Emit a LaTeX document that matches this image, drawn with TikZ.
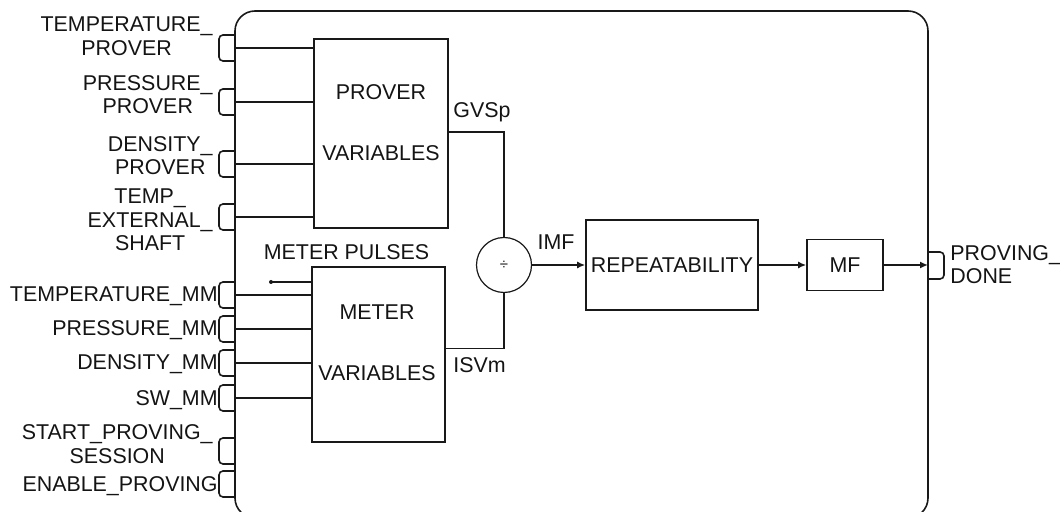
\documentclass[tikz,border=0pt]{standalone}
\usepackage{fontspec}
\setmainfont{Liberation Sans}
\usepackage{tikz}
\usetikzlibrary{arrows.meta,positioning}
\definecolor{blkLine}{RGB}{25,25,25}
\definecolor{blkText}{RGB}{20,20,20}

\begin{document}
\begin{tikzpicture}[x=0.5pt,y=-0.5pt,
  font=\fontsize{10.7}{11.8}\selectfont, text=blkText,
  blk/.style={draw=blkLine, line width=0.8pt, inner sep=0pt},
  sig/.style={draw=blkLine, line width=0.8pt},
  lbl/.style={inner sep=0pt, align=center, anchor=east},
  lblone/.style={inner sep=0pt, anchor=base east},
  boxtxt/.style={inner sep=0pt, align=center, font=\fontsize{10.7}{30.5}\selectfont},
  >={Latex[length=4pt,width=3.5pt]}]
\useasboundingbox (0,0) rectangle (1060,512);
\clip (0,0) rectangle (1060,512);

% outer block
\draw[sig, rounded corners=10pt] (235,11) rectangle (928,518);

% inner blocks
\node[blk, minimum width=67pt, minimum height=94.5pt] (prover) at (381,133.5) {};
\node[boxtxt] (proverTxt) at (381,122.5) {PROVER\\VARIABLES};
\node[blk, minimum width=66.5pt, minimum height=87.5pt] (meter) at (378.5,354.5) {};
\node[boxtxt] (meterTxt) at (377,342.5) {METER\\VARIABLES};
\node[blk, circle, line width=0.6pt, minimum size=27.5pt,
  font=\fontsize{7.5}{8}\selectfont] (div) at (504,265) {÷};
\node[blk, minimum width=86pt, minimum height=45pt] (rep) at (672,265) {REPEATABILITY};
\node[blk, minimum width=38pt, minimum height=25.5pt] (mf) at (845,265) {MF};

% input ports
\foreach \n/\y in {tp/48,pp/102,dp/164,tes/217,tmm/295,pmm/329,dmm/363,sw/398,sps/451,ep/484}{
  \coordinate (in-\n) at (235,\y);
  \draw[sig, rounded corners=2pt] (235,\y-13) -- (219,\y-13) -- (219,\y+13) -- (235,\y+13);
}
\node[lbl] (tpLbl) at (213,36.5) {TEMPERATURE\_\\PROVER};
\node[lbl] (ppLbl) at (213,94.5) {PRESSURE\_\\PROVER};
\node[lbl] (dpLbl) at (213,155.5) {DENSITY\_\\PROVER};
\node[lbl] (tesLbl) at (213,220) {TEMP\_\\EXTERNAL\_\\SHAFT};
\node[lblone] (tmmLbl) at (218,302) {TEMPERATURE\_MM};
\node[lblone] (pmmLbl) at (218,336) {PRESSURE\_MM};
\node[lblone] (dmmLbl) at (218,370) {DENSITY\_MM};
\node[lblone] (swLbl) at (218,406) {SW\_MM};
\node[lbl] (spsLbl) at (213,444) {START\_PROVING\_\\SESSION};
\node[lblone] (epLbl) at (218,492) {ENABLE\_PROVING};

% output port
\coordinate (out-done) at (928,265);
\draw[sig, rounded corners=2pt] (928,252) -- (944,252) -- (944,279) -- (928,279);
\node[inner sep=0pt, align=left, anchor=west] (doneLbl) at (950,264.5) {PROVING\_\\DONE};

% wiring
\foreach \n in {tp,pp,dp,tes}{
  \draw[sig] (in-\n) -- (in-\n -| prover.west);
}
\foreach \n in {tmm,pmm,dmm,sw}{
  \draw[sig] (in-\n) -- (in-\n -| meter.west);
}
\coordinate (pulses) at (271,282);
\fill[blkLine] (pulses) circle (1pt);
\draw[sig] (pulses) -- (pulses -| meter.west);
\node[inner sep=0pt, anchor=base] (pulsesLbl) at (346.5,260) {METER PULSES};

\draw[sig] ([yshift=0.75pt]prover.east) -| (div.north);
\draw[sig] ([yshift=3pt]meter.east) -| (div.south);
\node[inner sep=0pt, anchor=base west] (gvsLbl) at (453,118) {GVSp};
\node[inner sep=0pt, anchor=base west] (isvLbl) at (453,373) {ISVm};

\draw[sig, ->] (div.east) -- (rep.west);
\node[inner sep=0pt, anchor=base] (imfLbl) at (556,250) {IMF};
\draw[sig, ->] (rep.east) -- (mf.west);
\draw[sig, ->] (mf.east) -- (out-done);
\end{tikzpicture}
\end{document}
